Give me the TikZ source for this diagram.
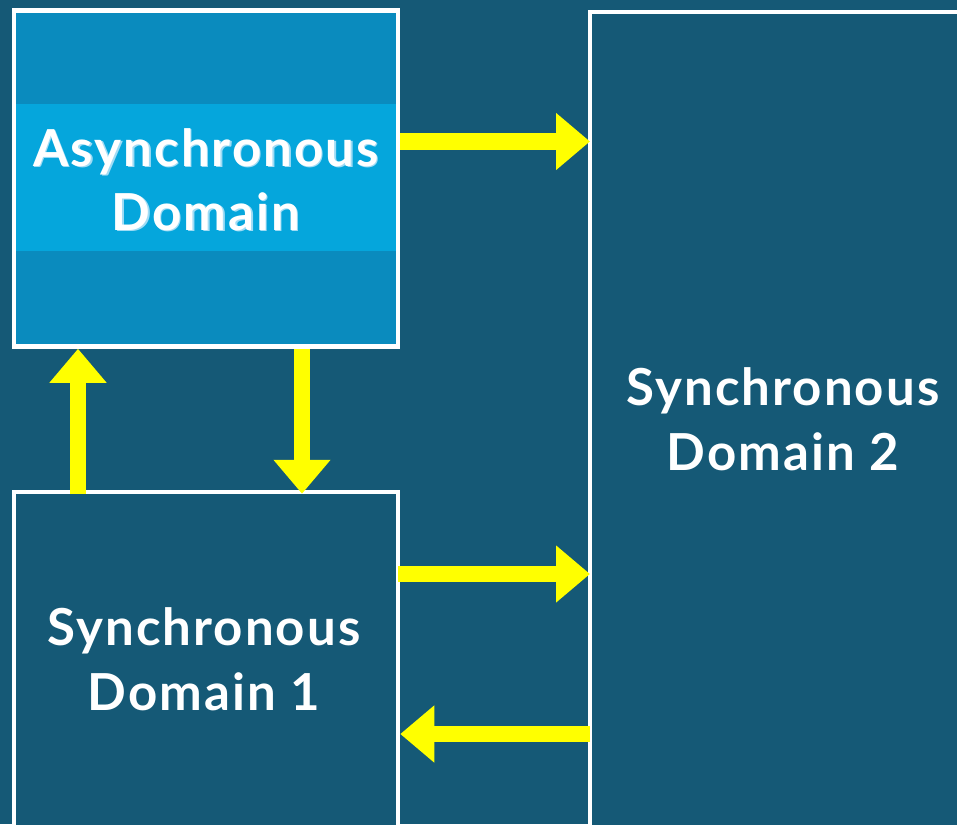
\documentclass[tikz,border=0pt]{standalone}
\usepackage{fontspec}
\setmainfont{Lato}
\newfontfamily\domainfont[LetterSpace=4]{Lato}
\usetikzlibrary{arrows.meta,calc}
\definecolor{bgblue}{RGB}{21,89,118}
\definecolor{asyncfill}{RGB}{10,139,190}
\definecolor{bandfill}{RGB}{5,166,220}
\definecolor{glow}{RGB}{160,220,245}
\definecolor{arrowyellow}{RGB}{255,255,0}
\begin{document}
\begin{tikzpicture}[x=1pt,y=-1pt,
  domainbox/.style={draw=white,line width=4.5pt,inner sep=0pt},
  domaintext/.style={text=white,font=\domainfont\fontsize{51}{60}\bfseries\selectfont,anchor=base,inner sep=0pt},
  bigarrow/.style={draw=arrowyellow,line width=16.5pt,-{Triangle[length=34pt,width=55pt]}}]
  % page and background
  \useasboundingbox (0,0) rectangle (957,824);
  \clip (0,0) rectangle (957,824);
  \fill[bgblue] (0,0) rectangle (957,824);

  % the three domains
  \node[domainbox,fill=asyncfill,minimum width=384pt,minimum height=336pt] (async) at (206,178.5) {};
  \fill[bandfill] (16,104) rectangle (396,251);
  \node[domainbox,fill=bgblue,minimum width=410pt,minimum height=888pt] (sync2) at (795,456) {};
  \node[domainbox,fill=bgblue,minimum width=384pt,minimum height=408pt] (sync1) at (206,696) {};

  % labels
  \node[domaintext,text=glow] (asyncS1) at (207.5,167.5) {Asynchronous};
  \node[domaintext,text=glow] (asyncS2) at (207.5,231.5) {Domain};
  \node[domaintext] (asyncL1) at (206,166) {Asynchronous};
  \node[domaintext] (asyncL2) at (206,230) {Domain};
  \node[domaintext] (sync2L1) at (783,405) {Synchronous};
  \node[domaintext] (sync2L2) at (783,470) {Domain 2};
  \node[domaintext] (sync1L1) at (204,645) {Synchronous};
  \node[domaintext] (sync1L2) at (204,710) {Domain 1};

  % connector levels
  \coordinate (ya) at (0,141.5);
  \coordinate (yb) at (0,574);
  \coordinate (yc) at (0,734);
  \coordinate (xa) at (78,0);
  \coordinate (xb) at (302,0);

  % connectors
  \draw[bigarrow] (async.east |- ya) -- ([xshift=2.25pt]sync2.west |- ya);
  \draw[bigarrow] ([yshift=-4pt]sync1.north -| xa) -- (async.south -| xa);
  \draw[bigarrow] (async.south -| xb) -- ([yshift=-4pt]sync1.north -| xb);
  \draw[bigarrow] ([xshift=-2pt]sync1.east |- yb) -- ([xshift=2.25pt]sync2.west |- yb);
  \draw[bigarrow] ([xshift=2.25pt]sync2.west |- yc) -- (sync1.east |- yc);
\end{tikzpicture}
\end{document}
